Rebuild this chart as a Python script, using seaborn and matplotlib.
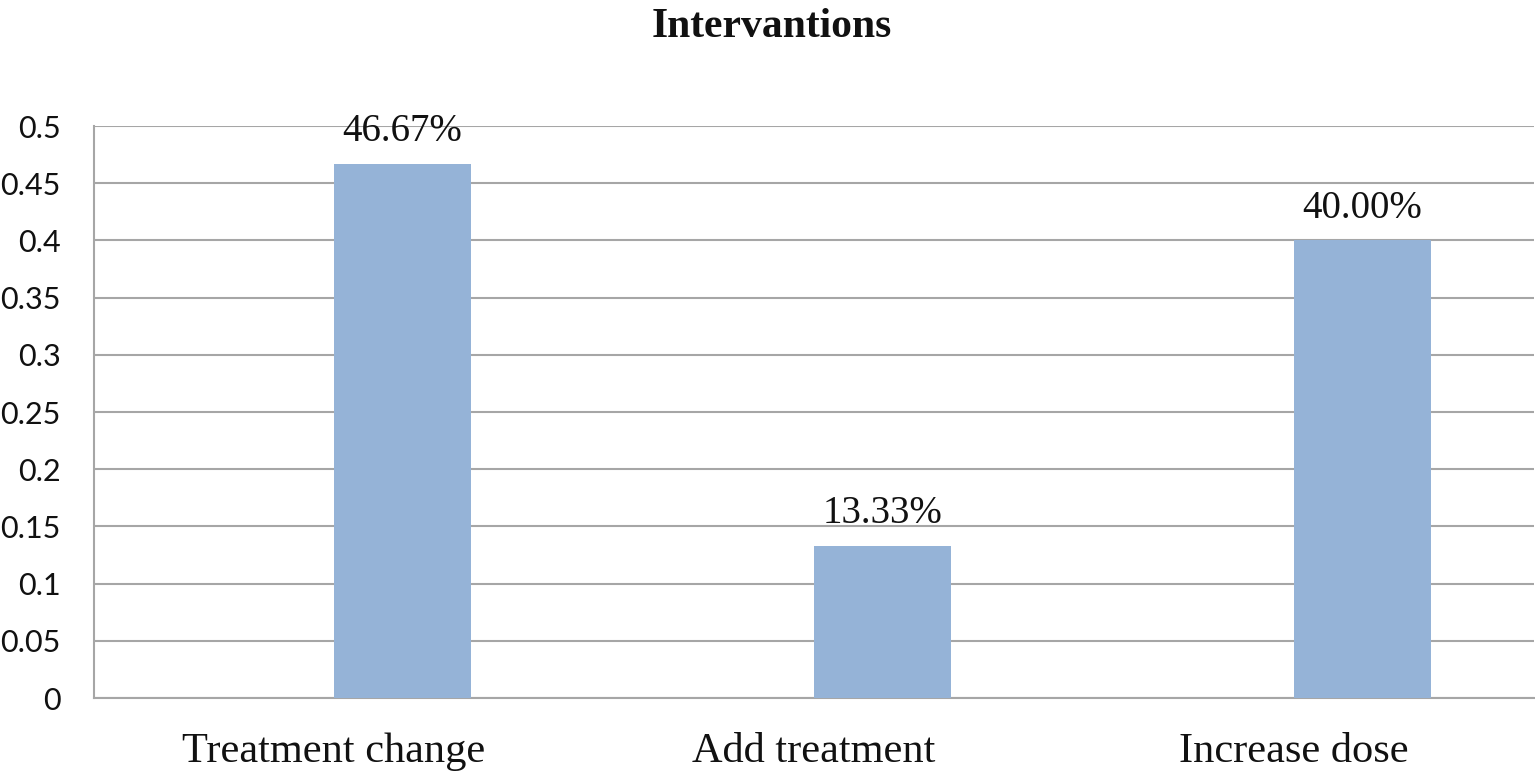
import matplotlib
matplotlib.use("Agg")
import matplotlib.pyplot as plt
import numpy as np
import pandas as pd
import seaborn as sns

# Data
categories = ["Treatment change", "Add treatment", "Increase dose"]
shares = [0.4667, 0.1333, 0.40]
labels = ["46.67%", "13.33%", "40.00%"]
y_ticks = [0, 0.05, 0.1, 0.15, 0.2, 0.25, 0.3, 0.35, 0.4, 0.45, 0.5]

# the source chart has an empty first series, so the bars sit right of centre
df = pd.DataFrame({
    "category": categories * 2,
    "series": ["empty"] * 3 + ["share"] * 3,
    "value": [np.nan] * 3 + shares,
})

sns.set_style("white")

fig = plt.figure(figsize=(15.35, 7.74), dpi=100)
ax = fig.add_axes([94 / 1535, 76 / 774, 1440 / 1535, 572 / 774])

sns.barplot(data=df, x="category", y="value", hue="series",
            hue_order=["empty", "share"],
            palette={"empty": "#95B3D7", "share": "#95B3D7"}, saturation=1,
            width=0.57, dodge=True, linewidth=0, legend=False, ax=ax, zorder=3)

ax.set_ylim(0, 0.5)
ax.set_xlim(-0.5, 2.5)
ax.set_xlabel("")
ax.set_ylabel("")
ax.set_yticks(y_ticks)
ax.set_yticklabels(["0" if t == 0 else f"{t:g}" for t in y_ticks],
                   fontfamily="Lato", fontsize=22, color="#111111")
ax.tick_params(axis="y", length=0, pad=24)
ax.tick_params(axis="x", length=0, pad=25)
for lab in ax.get_xticklabels():
    lab.set_fontfamily("Liberation Serif")
    lab.set_fontsize(30.5)
    lab.set_color("#111111")

ax.grid(axis="y", color="#A6A6A6", linewidth=1.5, zorder=0)
ax.set_axisbelow(True)
for side in ["top", "right"]:
    ax.spines[side].set_visible(False)
for side in ["left", "bottom"]:
    ax.spines[side].set_color("#A6A6A6")
    ax.spines[side].set_linewidth(1.5)

bars = [p for p in ax.patches if np.isfinite(p.get_height()) and p.get_height() > 0]
bars.sort(key=lambda p: p.get_x())
for patch, text in zip(bars, labels):
    ax.annotate(text, (patch.get_x() + patch.get_width() / 2, patch.get_height()),
                xytext=(0, 10), textcoords="offset points", ha="center", va="bottom",
                fontfamily="Liberation Serif", fontsize=28, color="#111111")

fig.text(0.503, 0.99, "Intervantions", ha="center", va="top",
         fontfamily="Liberation Serif", fontweight="bold", fontsize=30,
         color="#111111")

fig.savefig("out.png", dpi=100)
